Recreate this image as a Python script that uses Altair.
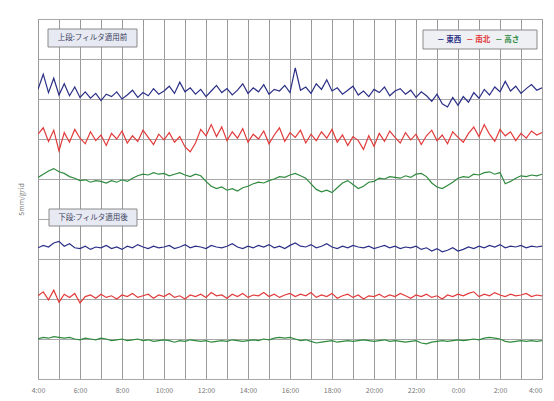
import altair as alt
import pandas as pd

# time in hours since 4:00 (15-minute readings)
hours = [i * 0.25 for i in range(97)]
x_tick_hours = list(range(25))
y_grid_mm = [0, 5, 10, 15, 20, 25, 30, 35, 40, 45]

series_names = ["東西(前)", "南北(前)", "高さ(前)", "東西(後)", "南北(後)", "高さ(後)"]
series_base = [35, 30, 25, 15, 10, 5]
series_colors = ["#2b2f86", "#e23a3a", "#2f8a3e", "#2b2f86", "#e23a3a", "#2f8a3e"]

blue_before = [
    1.2, 3.1, 0.8, 2.6, 0.5, 1.9, 0.4, 1.5, 0.2, 0.9,
    0.1, 0.7, -0.2, 0.6, 0.3, 0.9, 0.0, 0.5, 1.1, 0.2,
    0.8, 0.4, 1.3, 0.6, 1.0, 1.6, 0.7, 2.1, 0.9, 1.4,
    0.6, 1.2, 0.3, 1.0, 1.7, 0.8, 1.3, 0.5, 1.1, 1.9,
    0.7, 1.4, 0.9, 1.8, 0.6, 1.2, 1.0, 1.7, 0.8, 3.9,
    1.1, 1.5, 0.7, 1.9, 1.2, 2.4, 1.0, 1.4, 0.6, 1.1,
    1.6, 0.5, 1.0, 0.3, 1.2, 0.8, 1.5, 0.4, 1.0, 1.3,
    0.6, 1.1, 0.2, 0.9, 0.4, -0.3, 0.6, -0.6, -1.0, 0.2,
    -0.8, 0.3, -0.4, 0.8, 0.1, 1.2, 0.5, 1.5, 0.9, 2.2,
    1.0, 1.6, 0.7, 1.3, 1.8, 1.1, 1.4,
]
red_before = [
    0.6, 1.4, -0.3, 1.1, -1.5, 0.8, -0.4, 1.2, 0.1, -0.6,
    0.9, -0.2, 0.5, -0.8, 0.7, 0.0, 1.0, -0.5, 0.4, -0.3,
    1.1, 0.2, -0.7, 0.6, -0.1, 0.8, -0.4, 0.3, -1.0, -1.6,
    -0.5, 1.2, 0.4, 1.8, 0.3, 1.5, -0.2, 0.9, 0.1, 1.3,
    -0.4, 0.6, 0.0, 1.0, -0.6, 0.5, 1.4, -0.3, 0.8, 0.2,
    1.1, -0.5, 0.6, -0.2, 0.9, 0.1, 1.2, -0.4, 0.5, -0.8,
    0.3, -0.2, -1.3, 0.4, -0.9, 0.7, -0.3, 1.0, 0.2, -0.5,
    0.8, -0.1, 0.6, -0.7, 0.4, 1.1, -0.2, 0.5, -0.6, 0.9,
    0.2, -0.4, 0.7, 1.5, 0.3, 1.8, 0.6, -0.3, 1.2, 0.4,
    0.9, -0.2, 0.7, 0.1, 1.0, 0.5, 0.8,
]
green_before = [
    0.2, 0.6, 1.0, 1.3, 0.9, 0.7, 0.3, 0.1, -0.2, -0.1,
    -0.4, -0.2, -0.3, -0.5, -0.2, -0.4, -0.1, -0.3, 0.1, 0.4,
    0.6, 0.5, 0.8, 0.6, 0.7, 0.4, 0.6, 0.8, 0.5, 0.3,
    0.6, 0.4, -0.3, -0.9, -1.2, -1.0, -1.4, -1.2, -1.5, -1.1,
    -0.9, -0.6, -0.4, -0.5, -0.2, 0.0, 0.3, 0.2, 0.5, 0.7,
    0.4, 0.1, -0.6, -1.3, -1.6, -1.4, -1.7, -1.1, -0.5, -0.2,
    -0.7, -1.2, -0.9, -0.4, -0.3, 0.1, 0.0, 0.3, 0.2, 0.1,
    0.4, 0.2, 0.6, 0.7, 0.3, -0.5, -1.0, -1.2, -0.8, -0.4,
    0.1, 0.3, 0.2, 0.6, 0.5, 0.8, 0.9, 0.6, 0.8, -0.6,
    -0.3, 0.1, 0.4, 0.3, 0.5, 0.4, 0.6,
]
blue_after = [
    1.4, 1.7, 1.5, 2.0, 2.2, 1.6, 1.9, 1.4, 1.3, 1.6,
    1.2, 1.5, 1.4, 1.7, 1.3, 1.5, 1.2, 1.6, 1.4, 1.8,
    1.5, 1.3, 1.6, 1.4, 1.5, 1.7, 1.3, 1.5, 1.8, 1.4,
    1.6, 1.5, 1.3, 1.7, 1.5, 1.4, 1.6, 1.9, 1.5, 1.3,
    1.6, 1.4, 1.7, 1.5, 1.8, 1.4, 1.6, 1.3, 1.7, 2.0,
    1.6, 1.5, 1.8, 1.4, 1.6, 1.9, 1.5, 1.3, 1.6, 1.4,
    1.7, 1.5, 1.4, 1.6, 1.3, 1.5, 1.7, 1.4, 1.6, 1.3,
    1.5, 1.4, 1.6, 1.2, 1.4, 1.0, 1.3, 0.9, 1.1, 1.4,
    1.0, 1.2, 1.5, 1.3, 1.6, 1.4, 1.7, 1.5, 1.8, 1.4,
    1.6, 1.5, 1.7, 1.4, 1.6, 1.5, 1.6,
]
red_after = [
    0.4, 0.9, -0.1, 1.1, -0.4, 0.6, 0.2, 0.7, -0.5, 0.3,
    0.5, 0.1, 0.6, 0.2, 0.4, 0.0, 0.5, 0.3, 0.7, 0.2,
    0.4, 0.6, 0.1, 0.5, 0.3, 0.7, 0.2, 0.4, 0.0, 0.5,
    0.3, 0.6, 0.2, 0.8, 0.4, 0.5, 0.1, 0.6, 0.3, 0.7,
    0.2, 0.5, 0.4, 0.8, 0.3, 0.6, 0.2, 0.5, 0.7, 0.3,
    0.6, 0.4, 0.8, 0.2, 0.5, 0.3, 0.7, 0.1, 0.4, 0.6,
    0.2, 0.5, 0.0, 0.4, 0.3, 0.6, 0.2, 0.5, 0.3, 0.7,
    0.4, 0.1, 0.5, 0.3, 0.6, 0.2, 0.4, 0.0, 0.5, 0.3,
    0.6, 0.4, 0.7, 0.9, 0.3, 0.6, 0.4, 0.8, 0.5, 0.3,
    0.6, 0.4, 0.5, 0.7, 0.3, 0.5, 0.4,
]
green_after = [
    0.0, 0.2, 0.1, 0.3, 0.2, 0.1, 0.2, 0.0, -0.1, 0.1,
    0.0, -0.1, 0.1, 0.0, -0.2, -0.1, 0.0, -0.2, -0.1, 0.0,
    -0.2, -0.1, -0.3, -0.2, -0.1, -0.2, -0.4, -0.2, -0.3, -0.1,
    -0.2, -0.3, -0.2, -0.4, -0.3, -0.2, -0.3, -0.1, -0.2, -0.3,
    -0.2, -0.1, -0.2, 0.0, -0.1, 0.1, 0.2, 0.1, 0.2, 0.0,
    -0.2, -0.1, -0.3, -0.5, -0.4, -0.3, -0.2, -0.4, -0.3, -0.2,
    -0.3, -0.2, -0.1, -0.2, -0.3, -0.2, -0.1, -0.3, -0.2, -0.3,
    -0.4, -0.3, -0.2, -0.5, -0.6, -0.4, -0.3, -0.2, -0.3, -0.2,
    -0.1, -0.2, -0.1, 0.0, -0.1, 0.1, 0.2, 0.1, 0.0, -0.3,
    -0.4, -0.3, -0.2, -0.3, -0.2, -0.3, -0.2,
]

all_devs = [blue_before, red_before, green_before, blue_after, red_after, green_after]

rows = []
for name, base, devs in zip(series_names, series_base, all_devs):
    for h, d in zip(hours, devs):
        rows.append({"hour": h, "mm": base + d, "series": name})
df = pd.DataFrame(rows)

FONT = "Noto Sans CJK JP"

lines = alt.Chart(df).mark_line(strokeWidth=1.2, clip=True).encode(
    x=alt.X(
        "hour:Q",
        scale=alt.Scale(domain=[0, 24], nice=False, zero=False),
        axis=alt.Axis(
            values=x_tick_hours,
            labelExpr="datum.value % 2 == 0 ? ((datum.value + 4) % 24) + ':00' : ''",
            labelAlign={"condition": {"test": "datum.value == 24", "value": "right"}, "value": "center"},
            grid=True, gridColor="#9a9a9a", gridWidth=1,
            ticks=False, domain=False, labelFlush=False, labelOverlap=False,
            labelFontSize=7, labelColor="#777777", labelPadding=7, labelFont=FONT,
            title="",
        ),
    ),
    y=alt.Y(
        "mm:Q",
        scale=alt.Scale(domain=[0, 45], nice=False, zero=False),
        axis=alt.Axis(
            values=y_grid_mm, grid=True, gridColor="#a8a8a8", gridWidth=1,
            labels=False, ticks=False, domain=False,
            title="5mm/grid", titleFontSize=7, titleColor="#777777",
            titleFontWeight="normal", titleFont=FONT,
            titleX=-14, titleY=180, titleAngle=270,
        ),
    ),
    color=alt.Color("series:N", scale=alt.Scale(domain=series_names, range=series_colors), legend=None),
    detail="series:N",
)

one = pd.DataFrame({"k": [0]})

def box(x1, x2, y1, y2, fill):
    return alt.Chart(one).mark_rect(fill=fill, stroke="#8a8a8a", strokeWidth=1).encode(
        x=alt.value(x1), x2=alt.value(x2), y=alt.value(y1), y2=alt.value(y2)
    )

def label(txt, x, y, color, size=7.5, weight="normal", align="center"):
    return alt.Chart(pd.DataFrame({"t": [txt]})).mark_text(
        font=FONT, fontSize=size, color=color, fontWeight=weight, align=align, baseline="middle"
    ).encode(x=alt.value(x), y=alt.value(y), text="t:N")

upper_label = "上段:フィルタ適用前"
lower_label = "下段:フィルタ適用後"
legend_items = ["－ 東西", "－ 南北", "－ 高さ"]
legend_colors = ["#2b2f86", "#e23a3a", "#2f8a3e"]

ann = [
    box(10, 99, 10, 28, "#e7eaf3"),
    label(upper_label, 54.5, 19, "#3d4260"),
    box(11, 99, 190, 207, "#e7eaf3"),
    label(lower_label, 55, 198.5, "#3d4260"),
    box(385, 499, 11, 30, "#eef0f4"),
]
for i, (t, c) in enumerate(zip(legend_items, legend_colors)):
    ann.append(label(t, 399 + 29 * i, 20.5, c, size=7.5, weight="bold", align="left"))

chart = alt.layer(lines, *ann).properties(
    width=504, height=360,
    autosize=alt.AutoSizeParams(type="none"),
    padding={"left": 30, "top": 11, "right": 4, "bottom": 14},
    background="white",
).configure_view(stroke="#b0b0b0", strokeWidth=1)

chart.save("out.html", embed_options={"renderer": "svg", "actions": False})
